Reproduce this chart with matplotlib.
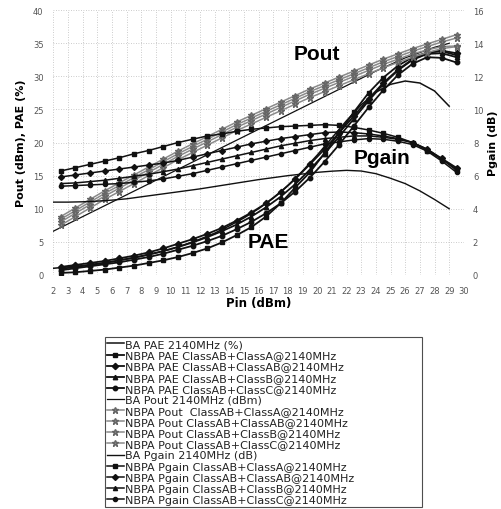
import numpy as np
import matplotlib
matplotlib.use("Agg")
import matplotlib.pyplot as plt

plt.rcParams['font.family'] = ['DejaVu Sans']

# ---------------- data ----------------
pin_ba = [2, 3, 4, 5, 6, 7, 8, 9, 10, 11, 12, 13, 14, 15, 16, 17, 18, 19, 20,
          21, 22, 23, 24, 25, 26, 27, 28, 29]
pin_nb = [2.5, 3.5, 4.5, 5.5, 6.5, 7.5, 8.5, 9.5, 10.5, 11.5, 12.5, 13.5, 14.5,
          15.5, 16.5, 17.5, 18.5, 19.5, 20.5, 21.5, 22.5, 23.5, 24.5, 25.5,
          26.5, 27.5, 28.5, 29.5]

ba_pae = [1.0, 1.2, 1.4, 1.7, 2.0, 2.4, 2.8, 3.3, 3.9, 4.6, 5.4, 6.3, 7.4, 8.6,
          10.0, 11.6, 13.5, 15.7, 18.1, 20.7, 23.3, 25.7, 27.6, 28.8, 29.3,
          29.0, 27.8, 25.5]
pae_a = [0.3, 0.4, 0.6, 0.8, 1.1, 1.4, 1.8, 2.2, 2.7, 3.3, 4.0, 4.9, 6.0, 7.2,
         8.8, 10.8, 13.2, 15.5, 18.4, 21.5, 24.6, 27.5, 29.8, 31.6, 32.9, 33.6,
         33.8, 33.2]
pae_ab = [1.2, 1.5, 1.8, 2.1, 2.5, 2.9, 3.4, 4.0, 4.7, 5.4, 6.2, 7.1, 8.2, 9.4,
          10.8, 12.5, 14.5, 16.7, 19.0, 21.5, 24.0, 26.6, 29.0, 31.0, 32.6,
          33.6, 33.9, 33.5]
pae_b = [0.9, 1.2, 1.5, 1.8, 2.2, 2.6, 3.1, 3.6, 4.2, 4.9, 5.7, 6.6, 7.6, 8.8,
         10.2, 11.8, 13.7, 15.9, 18.3, 20.9, 23.6, 26.3, 28.8, 30.9, 32.5,
         33.4, 33.5, 32.9]
pae_c = [0.7, 1.0, 1.3, 1.6, 1.9, 2.3, 2.7, 3.2, 3.8, 4.4, 5.1, 5.9, 6.9, 8.0,
         9.3, 10.8, 12.6, 14.7, 17.1, 19.7, 22.5, 25.3, 27.9, 30.2, 31.9, 32.9,
         32.8, 32.1]

ba_pout = [6.6, 7.7, 8.8, 9.9, 11.0, 12.1, 13.2, 14.3, 15.4, 16.5, 17.6, 18.7,
           19.8, 20.9, 22.0, 23.1, 24.2, 25.3, 26.4, 27.5, 28.6, 29.7, 30.8,
           31.8, 32.8, 33.6, 34.4, 35.0]
pout_a = [8.8, 10.1, 11.4, 12.7, 13.9, 15.1, 16.3, 17.5, 18.7, 19.8, 20.9, 22.0,
          23.1, 24.1, 25.1, 26.1, 27.1, 28.1, 29.0, 29.9, 30.8, 31.7, 32.6,
          33.4, 34.2, 34.9, 35.6, 36.3]
pout_ab = [8.4, 9.7, 11.0, 12.3, 13.5, 14.7, 15.9, 17.1, 18.3, 19.4, 20.5, 21.6,
           22.7, 23.7, 24.7, 25.7, 26.7, 27.7, 28.6, 29.5, 30.4, 31.3, 32.2,
           33.0, 33.8, 34.5, 35.2, 35.8]
pout_b = [8.0, 9.3, 10.6, 11.9, 13.1, 14.3, 15.5, 16.7, 17.9, 19.0, 20.1, 21.2,
          22.3, 23.3, 24.3, 25.3, 26.3, 27.3, 28.2, 29.1, 30.0, 30.9, 31.8,
          32.6, 33.4, 34.0, 34.5, 34.6]
pout_c = [7.5, 8.8, 10.1, 11.4, 12.6, 13.8, 15.0, 16.2, 17.4, 18.5, 19.6, 20.7,
          21.8, 22.8, 23.8, 24.8, 25.8, 26.8, 27.7, 28.6, 29.5, 30.4, 31.3,
          32.1, 32.9, 33.6, 34.2, 34.5]

ba_gain = [4.40, 4.40, 4.42, 4.46, 4.52, 4.60, 4.72, 4.84, 4.96, 5.08, 5.20,
           5.34, 5.48, 5.62, 5.76, 5.88, 6.00, 6.10, 6.20, 6.27, 6.32, 6.28,
           6.12, 5.84, 5.52, 5.08, 4.56, 4.00]
gain_a = [6.28, 6.48, 6.68, 6.88, 7.08, 7.32, 7.52, 7.76, 8.00, 8.20, 8.40,
          8.52, 8.68, 8.80, 8.88, 8.96, 9.00, 9.04, 9.08, 9.04, 8.92, 8.76,
          8.56, 8.32, 8.00, 7.52, 7.00, 6.40]
gain_ab = [5.92, 6.04, 6.16, 6.28, 6.40, 6.52, 6.64, 6.76, 6.92, 7.12, 7.32,
           7.52, 7.72, 7.92, 8.08, 8.24, 8.36, 8.48, 8.60, 8.64, 8.60, 8.52,
           8.40, 8.24, 8.00, 7.60, 7.04, 6.48]
gain_b = [5.52, 5.56, 5.64, 5.72, 5.84, 5.96, 6.08, 6.24, 6.40, 6.60, 6.80,
          7.00, 7.20, 7.40, 7.60, 7.80, 7.96, 8.12, 8.24, 8.32, 8.40, 8.40,
          8.32, 8.20, 8.00, 7.60, 7.00, 6.32]
gain_c = [5.36, 5.40, 5.44, 5.48, 5.52, 5.60, 5.68, 5.80, 5.96, 6.12, 6.32,
          6.52, 6.72, 6.92, 7.12, 7.32, 7.52, 7.72, 7.92, 8.04, 8.16, 8.24,
          8.20, 8.08, 7.88, 7.48, 6.88, 6.20]

x_ticks = list(range(2, 31))
left_ticks = [0, 5, 10, 15, 20, 25, 30, 35, 40]
right_ticks = [0, 2, 4, 6, 8, 10, 12, 14, 16]

labels = [
    "BA PAE 2140MHz (%)",
    "NBPA PAE ClassAB+ClassA@2140MHz",
    "NBPA PAE ClassAB+ClassAB@2140MHz",
    "NBPA PAE ClassAB+ClassB@2140MHz",
    "NBPA PAE ClassAB+ClassC@2140MHz",
    "BA Pout 2140MHz (dBm)",
    "NBPA Pout  ClassAB+ClassA@2140MHz",
    "NBPA Pout ClassAB+ClassAB@2140MHz",
    "NBPA Pout ClassAB+ClassB@2140MHz",
    "NBPA Pout ClassAB+ClassC@2140MHz",
    "BA Pgain 2140MHz (dB)",
    "NBPA Pgain ClassAB+ClassA@2140MHz",
    "NBPA Pgain ClassAB+ClassAB@2140MHz",
    "NBPA Pgain ClassAB+ClassB@2140MHz",
    "NBPA Pgain ClassAB+ClassC@2140MHz",
]

# ---------------- figure ----------------
fig = plt.figure(figsize=(5.02, 5.10), dpi=100)
ax = fig.add_axes([0.106, 0.459, 0.818, 0.519])
ax2 = ax.twinx()

markers = ['s', 'D', '^', 'o']
blk = '#111111'
gry = '#8a8a8a'

handles = []
h, = ax.plot(pin_ba, ba_pae, color=blk, lw=1.1)
handles.append(h)
for y, m in zip([pae_a, pae_ab, pae_b, pae_c], markers):
    h, = ax.plot(pin_nb, y, color=blk, lw=1.3, marker=m, ms=3.2)
    handles.append(h)

h, = ax.plot(pin_ba, ba_pout, color=blk, lw=0.9)
handles.append(h)
for y in [pout_a, pout_ab, pout_b, pout_c]:
    h, = ax.plot(pin_nb, y, color=gry, lw=1.1, marker='*', ms=5,
                 markeredgecolor='#666666', markerfacecolor=gry)
    handles.append(h)

h, = ax2.plot(pin_ba, ba_gain, color=blk, lw=1.0)
handles.append(h)
for y, m in zip([gain_a, gain_ab, gain_b, gain_c], markers):
    h, = ax2.plot(pin_nb, y, color=blk, lw=1.1, marker=m, ms=3.0)
    handles.append(h)

ax.set_xlim(2, 30)
ax.set_ylim(0, 40)
ax2.set_ylim(0, 16)
ax.set_xticks(x_ticks)
ax.set_yticks(left_ticks)
ax2.set_yticks(right_ticks)

for a in (ax, ax2):
    for s in a.spines.values():
        s.set_visible(False)
    a.tick_params(length=0, labelsize=6, colors='#555555')
ax.tick_params(axis='x', pad=8)
ax.tick_params(axis='y', pad=7)
ax2.tick_params(axis='y', pad=6.5)

ax.grid(True, color='#bbbbbb', linestyle=(0, (1, 2)), linewidth=0.6)
ax.set_axisbelow(True)

ax.set_xlabel("Pin (dBm)", fontsize=8.5, fontweight='bold', labelpad=1)
ax.set_ylabel("Pout (dBm), PAE (%)", fontsize=8, fontweight='bold', labelpad=5)
ax2.set_ylabel("Pgain (dB)", fontsize=8, fontweight='bold', labelpad=3)

big = dict(fontsize=15, fontweight='bold', ha='center', va='center',
           family='Liberation Sans')
ax.text(20.0, 33.4, "Pout", **big)
ax.text(24.4, 17.8, "Pgain", **big)
ax.text(16.7, 5.0, "PAE", **big)

leg = fig.legend(handles, labels, loc='upper left', mode='expand',
                 bbox_to_anchor=(0.209, 0.0, 0.632, 0.337),
                 bbox_transform=fig.transFigure,
                 fontsize=8, frameon=True, fancybox=False, edgecolor='#222222',
                 handlelength=1.5, handletextpad=0.15, labelspacing=0.1,
                 borderpad=0.2, borderaxespad=0.0)
leg.get_frame().set_linewidth(0.8)
for t in leg.get_texts():
    t.set_color('#222222')

fig.savefig("out.png", dpi=100)
